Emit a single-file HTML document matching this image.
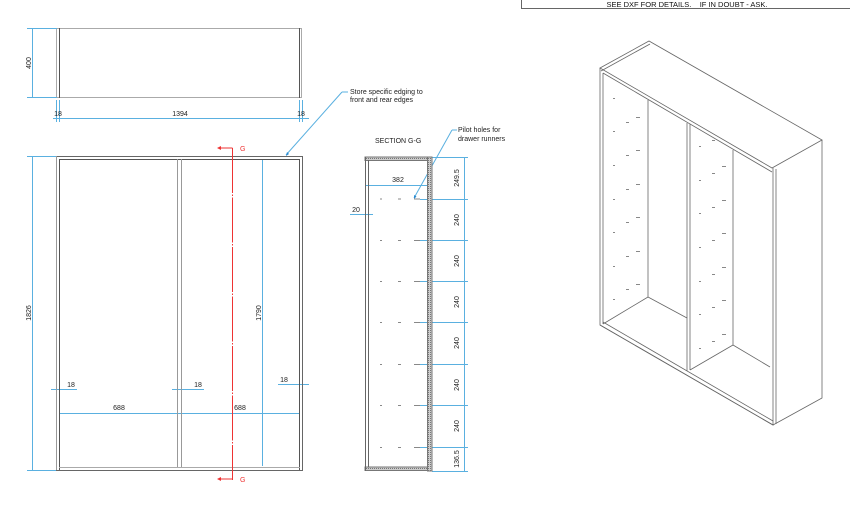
<!DOCTYPE html>
<html><head><meta charset="utf-8"><style>
html,body{margin:0;padding:0;background:#fff;}
svg{display:block;font-family:"Liberation Sans",sans-serif;}
</style></head><body>
<svg width="850" height="517" viewBox="0 0 850 517" xmlns="http://www.w3.org/2000/svg">
<defs>
<pattern id="h" width="2" height="2" patternUnits="userSpaceOnUse"><rect width="2" height="2" fill="#ccc"/><rect width="1" height="1" fill="#777"/></pattern>
</defs>
<!-- banner -->
<path d="M521.5 0 V8.5 H850" fill="none" stroke="#666" stroke-width="1"/>
<text x="687" y="7" font-size="7.5" text-anchor="middle" fill="#111" style="white-space:pre">SEE DXF FOR DETAILS.    IF IN DOUBT - ASK.</text>

<g fill="none" stroke-width="1">
<!-- top view -->
<path d="M57 28.5H302M57 97.5H302" stroke="#aaa"/>
<path d="M56.5 28V98M301.5 28V98" stroke="#aaa"/>
<path d="M59.5 28V98M299.5 28V98" stroke="#555"/>
<g stroke="#5ab0e0">
<path d="M27 28.5H57M27 97.5H57M32.5 28V97"/>
<path d="M56.5 100V122M59.5 100V122M299.5 100V122M302.5 100V122M53 118.5H309"/>
<!-- front dims -->
<path d="M27 156.5H57M27 470.5H57M32.5 156V470"/>
<path d="M262.5 160V466"/>
<path d="M51 389.5H77M172 389.5H204M278 384.5H309M59 413.5H300"/>
<path d="M342 92 L286 155M342 92H348"/>
<!-- section dims -->
<path d="M432 157.5H468M420 199.5H468M420 240.5H468M420 281.5H468M420 322.5H468M420 364.5H468M420 405.5H468M420 447.5H468M432 471.5H468M464.5 157V472"/>
<path d="M365 185.5H430M350 214.5H373"/>
<path d="M452 130 L414 198M452 130H457"/>
</g>
<!-- front view -->
<path d="M56 156.5H302.5V470.5H56" stroke="#666"/>
<path d="M56.5 156V470" stroke="#999"/>
<path d="M59.5 159V470M299.5 159V470M59 159.5H300" stroke="#555"/>
<path d="M59 467.5H300" stroke="#aaa"/>
<path d="M177.5 159V467M181.5 159V467" stroke="#999"/>
<path d="M232.5 148V480" stroke="#e33" stroke-dasharray="45,1.5,1.5,1.5"/>
<path d="M232.5 148H219M232.5 479H219" stroke="#e33"/>
<!-- section -->
<rect x="365" y="157" width="67" height="3.5" fill="url(#h)" stroke="#777"/>
<rect x="365" y="467" width="67" height="3.5" fill="url(#h)" stroke="#777"/>
<rect x="427.5" y="157" width="4.5" height="314" fill="url(#h)" stroke="#777"/>
<path d="M365.5 157V471M368.5 160V467" stroke="#666"/>
<!-- iso -->
<g stroke="#666" stroke-width="0.8">
<path d="M600 68 L649 41 L822 140 L772 168 Z"/>
<path d="M601 71 L650 44"/>
<path d="M600 68 V325 L773 425 V168"/>
<path d="M603 73 V324 M603 73 L772 172"/>
<path d="M822 140 V398 L773 425"/>
<path d="M776 169 V424"/>
<path d="M600 325 L773 425 M603 322 L773 421"/>
<path d="M648 100 V297 L687 318"/>
<path d="M687 123 V371 M690 124 V370"/>
<path d="M733 150 V345 L770 367"/>
<path d="M690 370 L733 345"/>
<path d="M603 324 L648 297"/>
</g>
</g>
<!-- arrowheads -->
<g fill="#2a8ad0">
<path d="M286 156 l1 -4 l2 2z"/>
<path d="M414 199 l0 -4 l2.5 1.5z"/>
</g>
<g fill="#e33"><path d="M217 148 l4 -2 v4z M217 479 l4 -2 v4z"/></g>
<!-- pilot hole dots -->
<g fill="#888">
<rect x="380" y="198.5" width="2" height="1"/><rect x="398" y="198.5" width="3" height="1"/><rect x="414" y="198.5" width="6" height="1"/>
<rect x="380" y="240" width="2" height="1"/><rect x="398" y="240" width="3" height="1"/><rect x="414" y="240" width="6" height="1"/>
<rect x="380" y="281" width="2" height="1"/><rect x="398" y="281" width="3" height="1"/><rect x="414" y="281" width="6" height="1"/>
<rect x="380" y="322" width="2" height="1"/><rect x="398" y="322" width="3" height="1"/><rect x="414" y="322" width="6" height="1"/>
<rect x="380" y="364" width="2" height="1"/><rect x="398" y="364" width="3" height="1"/><rect x="414" y="364" width="6" height="1"/>
<rect x="380" y="405" width="2" height="1"/><rect x="398" y="405" width="3" height="1"/><rect x="414" y="405" width="6" height="1"/>
<rect x="380" y="447" width="2" height="1"/><rect x="398" y="447" width="3" height="1"/><rect x="414" y="447" width="6" height="1"/>
</g>
<g fill="#888">
<rect x="613" y="98" width="2" height="1"/><rect x="613" y="131" width="2" height="1"/><rect x="613" y="165" width="2" height="1"/><rect x="613" y="199" width="2" height="1"/><rect x="613" y="232" width="2" height="1"/><rect x="613" y="266" width="2" height="1"/><rect x="613" y="299" width="2" height="1"/>
<rect x="626" y="122" width="3" height="1"/><rect x="626" y="155" width="3" height="1"/><rect x="626" y="189" width="3" height="1"/><rect x="626" y="222" width="3" height="1"/><rect x="626" y="256" width="3" height="1"/><rect x="626" y="289" width="3" height="1"/>
<rect x="636" y="117" width="4" height="1"/><rect x="636" y="150" width="4" height="1"/><rect x="636" y="184" width="4" height="1"/><rect x="636" y="217" width="4" height="1"/><rect x="636" y="251" width="4" height="1"/><rect x="636" y="284" width="4" height="1"/>
<rect x="699" y="146" width="2" height="1"/><rect x="699" y="180" width="2" height="1"/><rect x="699" y="213" width="2" height="1"/><rect x="699" y="247" width="2" height="1"/><rect x="699" y="281" width="2" height="1"/><rect x="699" y="314" width="2" height="1"/><rect x="699" y="348" width="2" height="1"/>
<rect x="712" y="140" width="3" height="1"/><rect x="712" y="173" width="3" height="1"/><rect x="712" y="207" width="3" height="1"/><rect x="712" y="240" width="3" height="1"/><rect x="712" y="274" width="3" height="1"/><rect x="712" y="307" width="3" height="1"/><rect x="712" y="341" width="3" height="1"/>
<rect x="722" y="166" width="4" height="1"/><rect x="722" y="200" width="4" height="1"/><rect x="722" y="233" width="4" height="1"/><rect x="722" y="267" width="4" height="1"/><rect x="722" y="300" width="4" height="1"/><rect x="722" y="334" width="4" height="1"/>
</g>
<!-- text -->
<g font-size="7" fill="#222">
<text x="31" y="63" transform="rotate(-90 31 63)" text-anchor="middle">400</text>
<text x="58" y="116" text-anchor="middle">18</text>
<text x="180" y="116" text-anchor="middle">1394</text>
<text x="301" y="116" text-anchor="middle">18</text>
<text x="350" y="94">Store specific edging to</text>
<text x="350" y="102">front and rear edges</text>
<text x="31" y="313" transform="rotate(-90 31 313)" text-anchor="middle">1826</text>
<text x="261" y="313" transform="rotate(-90 261 313)" text-anchor="middle">1790</text>
<text x="71" y="387" text-anchor="middle">18</text>
<text x="198" y="387" text-anchor="middle">18</text>
<text x="284" y="382" text-anchor="middle">18</text>
<text x="119" y="410" text-anchor="middle">688</text>
<text x="240" y="410" text-anchor="middle">688</text>
<text x="375" y="143">SECTION G-G</text>
<text x="458" y="132">Pilot holes for</text>
<text x="458" y="141">drawer runners</text>
<text x="398" y="182" text-anchor="middle">382</text>
<text x="356" y="212" text-anchor="middle">20</text>
<g text-anchor="middle">
<text x="459" y="178" transform="rotate(-90 459 178)">249.5</text>
<text x="459" y="220" transform="rotate(-90 459 220)">240</text>
<text x="459" y="261" transform="rotate(-90 459 261)">240</text>
<text x="459" y="302" transform="rotate(-90 459 302)">240</text>
<text x="459" y="343" transform="rotate(-90 459 343)">240</text>
<text x="459" y="385" transform="rotate(-90 459 385)">240</text>
<text x="459" y="426" transform="rotate(-90 459 426)">240</text>
<text x="459" y="459" transform="rotate(-90 459 459)">136.5</text>
</g>
</g>
<g font-size="7" fill="#e33">
<text x="240" y="151">G</text>
<text x="240" y="482">G</text>
</g>
</svg>
</body></html>
